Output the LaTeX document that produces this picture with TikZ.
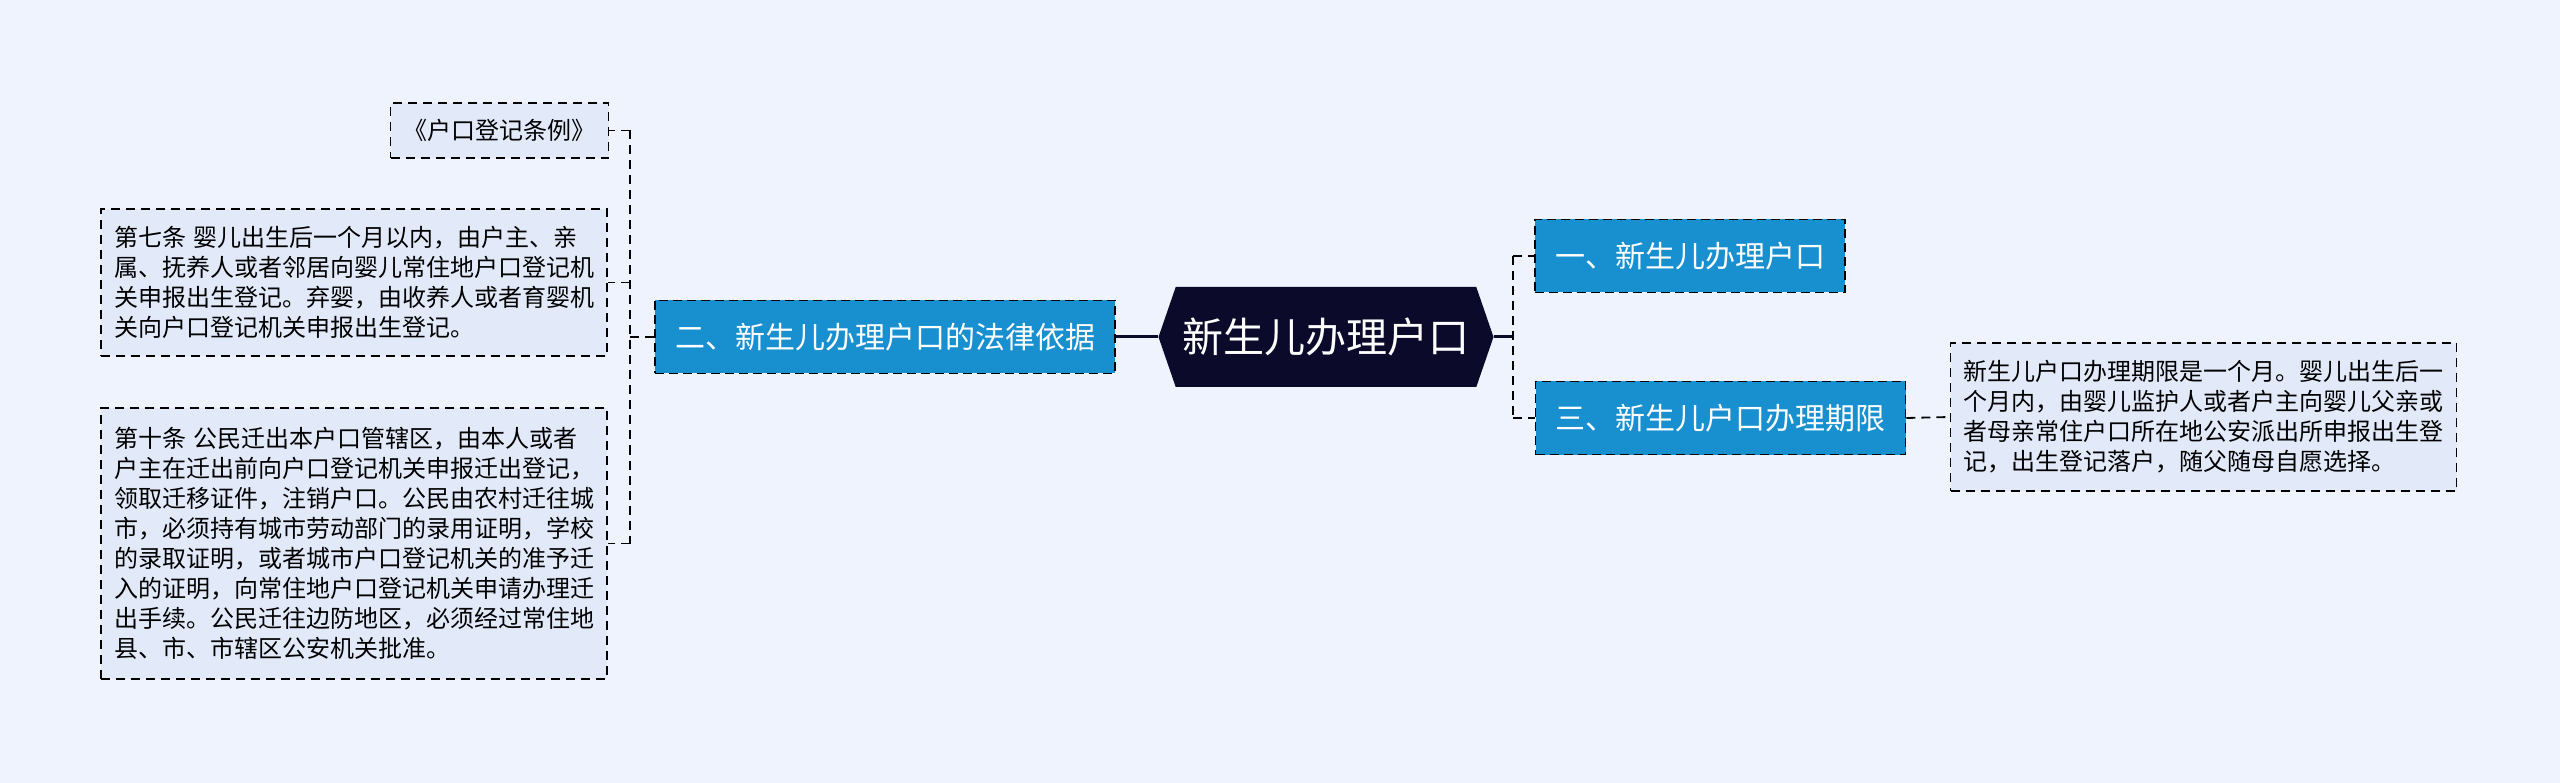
\documentclass[tikz,border=0pt]{standalone}
\usepackage{fontspec}
\setmainfont{Noto Sans CJK SC}
\usetikzlibrary{shapes.symbols}
\definecolor{PageBg}{RGB}{238,243,253}
\definecolor{NoteBg}{RGB}{226,234,250}
\definecolor{TopicBlue}{RGB}{24,144,208}
\definecolor{RootNavy}{RGB}{11,10,43}
\tikzset{
  note/.style={draw=black,fill=NoteBg,line width=1.8pt,dash pattern=on 9pt off 6pt,
    inner xsep=13pt,inner ysep=0pt,align=left,font=\fontsize{24}{30}\selectfont},
  topic/.style={draw=black,fill=TopicBlue,text=white,line width=1.8pt,
    dash pattern=on 9pt off 5pt,minimum height=73pt,inner xsep=20pt,
    font=\fontsize{30}{36}\selectfont},
  link/.style={line width=1.8pt,dash pattern=on 9pt off 6pt},
  trunk/.style={line width=3pt,RootNavy}
}
\begin{document}
\begin{tikzpicture}[x=1pt,y=-1pt]
  \fill[PageBg] (0,0) rectangle (2560,783);
  \useasboundingbox (0,0) rectangle (2560,783);
  \node[shape=signal,signal to=west and east,signal pointer angle=142,
        fill=RootNavy,text=white,minimum width=335pt,minimum height=100pt,
        font=\fontsize{41}{48}\selectfont] (root) at (1326,337) {新生儿办理户口};
  \node[topic] (basis) at (885,337) {二、新生儿办理户口的法律依据};
  \node[topic] (first) at (1690,256) {一、新生儿办理户口};
  \node[topic] (third) at (1720.5,418) {三、新生儿户口办理期限};
  \node[note,align=center,minimum width=215pt,minimum height=55pt] (law) at (499.5,130.5) {《户口登记条例》};
  \node[note,text width=480pt,minimum height=147pt] (art7) at (354,282.5) {%
    第七条 婴儿出生后一个月以内，由户主、亲\\
    属、抚养人或者邻居向婴儿常住地户口登记机\\
    关申报出生登记。弃婴，由收养人或者育婴机\\
    关向户口登记机关申报出生登记。};
  \node[note,text width=480pt,minimum height=271pt] (art10) at (354,543.5) {%
    第十条 公民迁出本户口管辖区，由本人或者\\
    户主在迁出前向户口登记机关申报迁出登记，\\
    领取迁移证件，注销户口。公民由农村迁往城\\
    市，必须持有城市劳动部门的录用证明，学校\\
    的录取证明，或者城市户口登记机关的准予迁\\
    入的证明，向常住地户口登记机关申请办理迁\\
    出手续。公民迁往边防地区，必须经过常住地\\
    县、市、市辖区公安机关批准。};
  \node[note,text width=480pt,minimum height=148pt] (limit) at (2203.5,417) {%
    新生儿户口办理期限是一个月。婴儿出生后一\\
    个月内，由婴儿监护人或者户主向婴儿父亲或\\
    者母亲常住户口所在地公安派出所申报出生登\\
    记，出生登记落户，随父随母自愿选择。};
  \coordinate (lj) at (630,337);
  \coordinate (rj) at (1513,337);
  \draw[trunk] (root.west) -- (basis.east);
  \draw[trunk] (root.east) -- (rj);
  \draw[link] (basis.west) -- (lj);
  \draw[link] (lj |- law.east) -- (lj |- art10.east);
  \draw[link] (lj |- law.east) -- (law.east);
  \draw[link] (lj |- art7.east) -- (art7.east);
  \draw[link] (lj |- art10.east) -- (art10.east);
  \draw[link] (rj |- first.west) -- (rj |- third.west);
  \draw[link] (rj |- first.west) -- (first.west);
  \draw[link] (rj |- third.west) -- (third.west);
  \draw[link] (third.east) -- (limit.west);
\end{tikzpicture}
\end{document}
